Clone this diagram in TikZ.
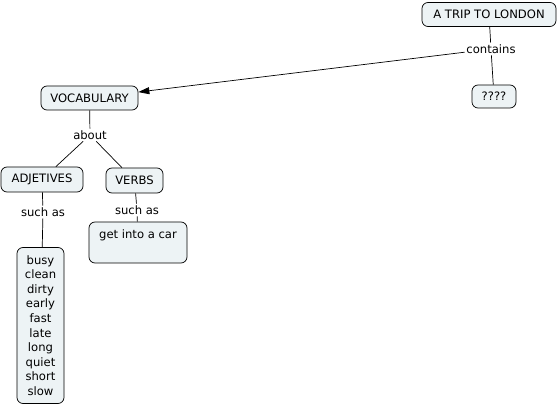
\documentclass[tikz,border=0pt]{standalone}
\usepackage{fontspec}
\setmainfont{DejaVu Sans}
\usetikzlibrary{arrows.meta}

\definecolor{conceptfill}{HTML}{EDF3F5}

\tikzset{
  concept/.style={draw=black,fill=conceptfill,rounded corners=6pt,inner sep=3pt,
    minimum height=24pt,font=\fontsize{11.6}{14.6}\selectfont},
  linkword/.style={inner sep=1.5pt,font=\fontsize{11.6}{13}\selectfont},
}

\begin{document}
\begin{tikzpicture}[x=1pt,y=-1pt,>={Triangle[length=11pt,width=7pt]},line width=0.7pt]
  \useasboundingbox (0,0) rectangle (560,406);
  \node[concept,minimum width=134pt] (trip)  at (489,14.5) {A TRIP TO LONDON};
  \node[linkword] (contains) at (491,49) {contains};
  \node[concept,minimum width=44pt,minimum height=23pt] (unknown) at (494,96.5) {????};
  \node[concept,minimum width=97pt] (vocab) at (89.5,98) {VOCABULARY};
  \node[linkword] (about) at (90,135) {about};
  \node[concept,minimum width=82pt,minimum height=25pt] (adj) at (42,179.5) {ADJETIVES};
  \node[concept,minimum width=57pt,minimum height=25pt] (verbs) at (134.5,180.5) {VERBS};
  \node[linkword] (suchA) at (43,212) {such as};
  \node[linkword] (suchB) at (137,210) {such as};
  \node[concept,minimum width=98pt,text height=14pt,text depth=21pt] (getin) at (138,242.5) {get into a car};
  \node[concept,minimum width=47pt,minimum height=156pt,align=center] (words) at (40.5,325.5)
    {busy\\clean\\dirty\\early\\fast\\late\\long\\quiet\\short\\slow};

  \draw (trip) -- (contains);
  \draw (contains) -- (unknown);
  \draw[->] (contains) -- (vocab);
  \draw (vocab) -- (about);
  \draw (about) -- (adj);
  \draw (about) -- (verbs);
  \draw (adj) -- (suchA);
  \draw (suchA) -- (words);
  \draw (verbs) -- (suchB);
  \draw (suchB) -- (getin);
\end{tikzpicture}
\end{document}
